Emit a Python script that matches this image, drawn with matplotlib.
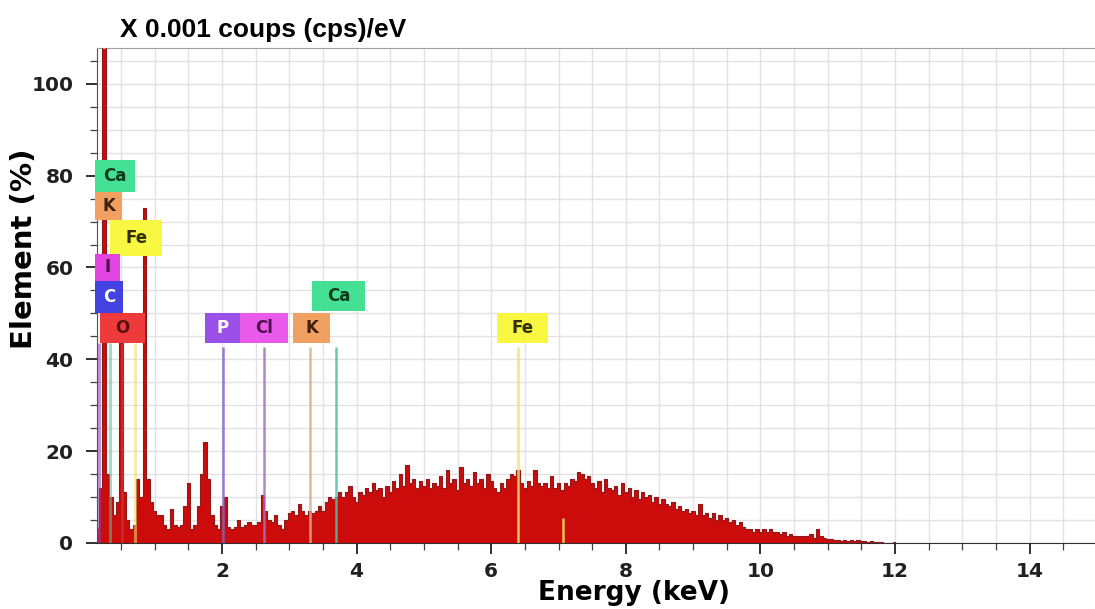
import numpy as np
import matplotlib.pyplot as plt
from matplotlib.patches import Rectangle
from matplotlib.ticker import MultipleLocator

# spectre EDS, canaux de 0.05 keV a partir de 0.15 keV
e_start = 0.15
e_step = 0.05
counts = [3, 12, 110, 15, 10, 6, 9, 44, 11, 5,
          3, 4, 14, 10, 73, 14, 9, 7, 6, 6,
          4, 3, 7.5, 4, 3.5, 4, 8, 13, 3, 4,
          8, 15, 22, 14, 6, 4, 3, 8, 10, 3.5,
          3, 3.5, 5, 3.5, 4, 4.5, 4, 4, 4.5, 10.5,
          7, 5, 4.5, 6, 4, 3, 5, 6.5, 7, 6,
          8.5, 7, 6, 7, 6.5, 7, 8, 7, 9, 10,
          9.5, 10, 11, 10, 11, 12.5, 10, 9, 11, 10.5,
          12, 11, 13, 11.5, 12, 10, 12.5, 11, 13.5, 12,
          15, 12.5, 17, 13, 14, 12, 13.5, 12.5, 14, 12,
          13, 12.5, 14.5, 12, 16, 13, 14, 11.5, 16.5, 13,
          14, 12.5, 15.5, 13, 14, 12, 15, 13.5, 12, 11,
          13, 12, 14, 15, 14.5, 16, 13, 12, 13.5, 12.5,
          16, 13, 12.5, 13, 12, 14.5, 12, 13, 11.5, 13,
          12.5, 14, 13.5, 15.5, 15, 14, 14.5, 13, 12, 13.5,
          11, 14, 12, 11.5, 12.5, 10.5, 13, 11, 12, 10,
          11.5, 9.5, 11, 10, 10.5, 9, 10, 8.5, 9.5, 8.5,
          8, 9, 7.5, 8, 7, 7.5, 6.5, 7, 6, 8.5,
          6, 6.5, 5.5, 6.5, 5, 6, 5, 5.5, 4.5, 5,
          4, 4.5, 3.5, 3, 3, 2.5, 3, 2.5, 3, 2.5,
          3, 2.5, 2.5, 2, 2.5, 1.5, 2, 1.5, 1.5, 1.5,
          1.5, 1.5, 2, 1, 3, 1.5, 1, 0.8, 0.8, 0.6,
          0.6, 0.5, 0.6, 0.4, 0.6, 0.5, 0.7, 0.4, 0.5, 0.3,
          0.4, 0.3, 0.2, 0.2, 0.1, 0.1, 0.1, 0.2]
energy = e_start + e_step * np.arange(len(counts))

# raies des elements (keV)
elements = ['P', 'Cl', 'K', 'Ca', 'Fe']
elem_energy = [2.01, 2.62, 3.31, 3.69, 6.40]
low_lines = ['I', 'Ca', 'O', 'Fe']
low_energy = [0.17, 0.34, 0.52, 0.71]

box_col = {'P': '#9a4fe8', 'Cl': '#ea5aea', 'K': '#f0a060', 'Ca': '#44e094',
           'Fe': '#f8f842', 'O': '#ee3a3a', 'C': '#4242e0', 'I': '#e244e2'}
txt_col = {'P': 'white', 'Cl': '#4a104a', 'K': '#402010', 'Ca': '#0d3a1c',
           'Fe': '#303000', 'O': '#5a1010', 'C': 'white', 'I': '#4a104a'}
line_col = {'P': '#8a62c4', 'Cl': '#a472c4', 'K': '#d8b08c', 'Ca': '#4cc4a0',
            'Fe': '#f0e070', 'O': '#c84040', 'I': '#9040b0'}

fig = plt.figure(figsize=(10.95, 6.09), dpi=100)
ax = fig.add_axes([0.0886, 0.1084, 0.9114, 0.8128])

# grille
ax.xaxis.set_major_locator(MultipleLocator(2))
ax.xaxis.set_minor_locator(MultipleLocator(0.5))
ax.yaxis.set_major_locator(MultipleLocator(20))
ax.yaxis.set_minor_locator(MultipleLocator(5))
ax.grid(True, which='both', color='#e2e2e2', linewidth=1.0)
ax.set_axisbelow(True)

# spectre
ax.fill_between(energy, counts, step='mid', facecolor='#cc0b0b', edgecolor='none', zorder=2)
ax.step(energy, counts, where='mid', color='#8e1a1a', linewidth=0.8, zorder=3)

# raies des elements
for name, e in zip(elements, elem_energy):
    ax.vlines(e, 0, 42.7, color=line_col[name], linewidth=1.8, alpha=0.85, zorder=4)
for name, e in zip(low_lines, low_energy):
    ax.vlines(e, 0, 43.6, color=line_col[name], linewidth=2.2, alpha=0.55, zorder=4)
ax.vlines(7.06, 0, 5.5, color='#f0c050', linewidth=1.8, zorder=4)

# etiquettes (x0, x1, y0, y1)
boxes = [('P', 1.75, 2.27, 43.6, 50.1), ('Cl', 2.27, 2.98, 43.6, 50.1),
         ('K', 3.06, 3.60, 43.6, 50.1), ('Ca', 3.34, 4.13, 50.6, 57.1),
         ('Fe', 6.08, 6.84, 43.6, 50.1),
         ('Ca', 0.12, 0.71, 76.5, 83.4), ('K', 0.12, 0.52, 70.4, 76.5),
         ('Fe', 0.34, 1.11, 62.5, 70.4), ('I', 0.12, 0.49, 57.1, 63.0),
         ('C', 0.12, 0.53, 50.1, 57.1), ('O', 0.19, 0.86, 43.6, 50.1)]
for name, x0, x1, y0, y1 in boxes:
    ax.add_patch(Rectangle((x0, y0), x1 - x0, y1 - y0, facecolor=box_col[name],
                           edgecolor='none', clip_on=False, zorder=5))
    ax.text((x0 + x1) / 2, (y0 + y1) / 2, name, ha='center', va='center',
            fontsize=12, fontweight='bold', color=txt_col[name], zorder=6,
            family='DejaVu Sans')

ax.set_xlim(0.144, 14.97)
ax.set_ylim(0, 107.8)
ax.spines['right'].set_visible(False)
ax.spines['top'].set_color('#a0a0a0')
ax.spines['left'].set_color('#505050')
ax.spines['bottom'].set_color('#303030')
ax.tick_params(which='major', direction='out', length=8, width=1.3, pad=6,
               labelsize=14.5, colors='#202020')
ax.tick_params(which='minor', direction='out', length=5, width=0.9, colors='#404040')
ax.set_xticks([2, 4, 6, 8, 10, 12, 14])
ax.set_xticklabels(['2', '4', '6', '8', '10', '12', '14'], fontweight='bold')
ax.set_yticks([0, 20, 40, 60, 80, 100])
ax.set_yticklabels(['0', '20', '40', '60', '80', '100'], fontweight='bold')
ax.tick_params(axis='y', which='major', pad=9)

fig.text(0.11, 0.951, 'X 0.001 coups (cps)/eV', ha='left', va='center',
         fontsize=19, fontweight='bold', family='Liberation Sans')
fig.text(0.022, 0.591, 'Element (%)', rotation=90, ha='center', va='center',
         fontsize=21, fontweight='bold', family='DejaVu Sans')
fig.text(0.579, 0.026, 'Energy (keV)', ha='center', va='center',
         fontsize=19, fontweight='bold', family='DejaVu Sans')

fig.savefig('out.png', dpi=100)
